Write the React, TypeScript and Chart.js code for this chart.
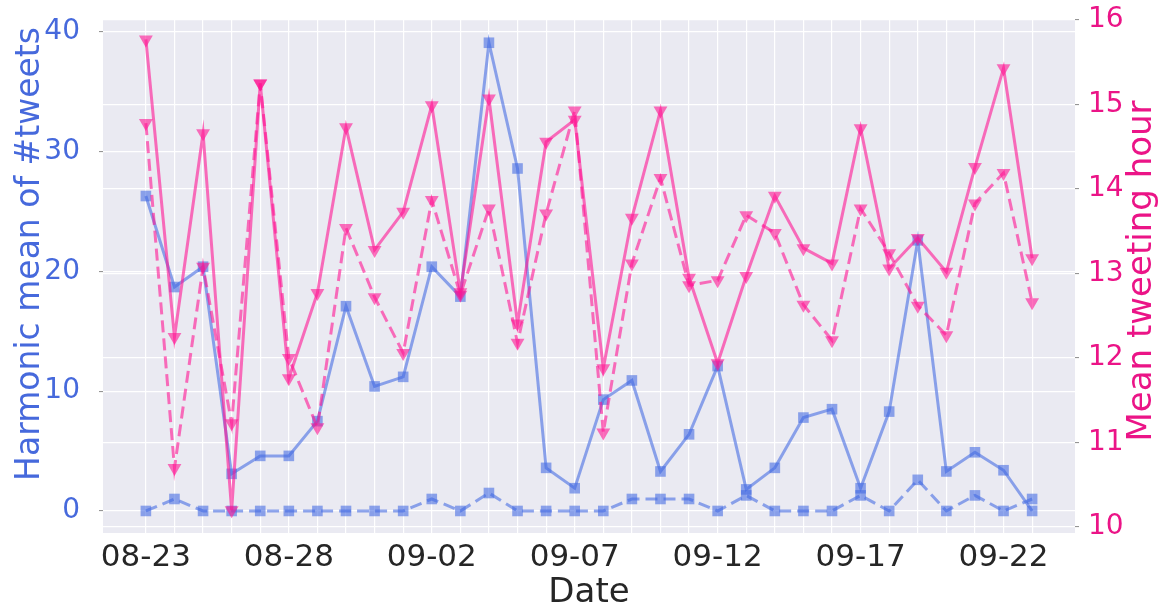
import React, { useEffect, useRef } from "react";
import { Chart, registerables } from "chart.js";

Chart.register(...registerables);

const dates = [
  "08-23", "08-24", "08-25", "08-26", "08-27", "08-28", "08-29", "08-30", "08-31",
  "09-01", "09-02", "09-03", "09-04", "09-05", "09-06", "09-07", "09-08", "09-09",
  "09-10", "09-11", "09-12", "09-13", "09-14", "09-15", "09-16", "09-17", "09-18",
  "09-19", "09-20", "09-21", "09-22", "09-23",
];
const xTickLabels = ["08-23", "08-28", "09-02", "09-07", "09-12", "09-17", "09-22"];
const leftTicks = [0, 10, 20, 30, 40];
const rightTicks = [10, 11, 12, 13, 14, 15, 16];

// Harmonic mean of #tweets (left axis)
const harmonicSolid = [
  26.3, 18.7, 20.4, 3.1, 4.6, 4.6, 7.5, 17.1, 10.4, 11.2, 20.4, 17.9, 39.1, 28.6, 3.6, 1.9,
  9.3, 10.9, 3.3, 6.4, 12.1, 1.8, 3.6, 7.8, 8.5, 1.9, 8.3, 22.6, 3.3, 4.9, 3.4, 0.0,
];
const harmonicDashed = [
  0, 1.0, 0, 0, 0, 0, 0, 0, 0, 0, 1.0, 0, 1.5, 0, 0, 0,
  0, 1.0, 1.0, 1.0, 0, 1.3, 0, 0, 0, 1.3, 0, 2.6, 0, 1.3, 0, 1.0,
];
// Mean tweeting hour (right axis)
const hourSolid = [
  15.77, 12.25, 14.66, 10.2, 15.25, 11.76, 12.77, 14.73, 13.28, 13.73, 14.99, 12.78, 15.07, 12.41, 14.56, 14.82,
  11.88, 13.66, 14.93, 12.95, 11.94, 12.97, 13.92, 13.3, 13.12, 14.72, 13.06, 13.42, 13.02, 14.26, 15.43, 13.18,
];
const hourDashed = [
  14.78, 10.7, 13.08, 11.23, 15.25, 12.0, 11.18, 13.54, 12.72, 12.06, 13.87, 12.75, 13.77, 12.18, 13.71, 14.93,
  11.12, 13.12, 14.13, 12.86, 12.92, 13.69, 13.48, 12.63, 12.21, 13.77, 13.24, 12.62, 12.27, 13.83, 14.19, 12.66,
];

const FONT = "'DejaVu Sans', sans-serif";
const BLUE = "rgba(65,105,225,0.58)";
const PINK = "rgba(255,20,147,0.6)";
const BLUE_TEXT = "rgb(70,105,220)";
const PINK_TEXT = "rgb(235,20,135)";
const DARK = "#262626";

const toPts = (arr: number[]) => arr.map((v, i) => ({ x: i, y: v }));

const bgPlugin = {
  id: "bgArea",
  beforeDraw(chart: any) {
    const { ctx, chartArea: a } = chart;
    ctx.save();
    ctx.fillStyle = "#EAEAF2";
    ctx.fillRect(a.left, a.top, a.right - a.left, a.bottom - a.top);
    ctx.restore();
  },
};

const axisTitlesPlugin = {
  id: "axisTitles",
  afterDraw(chart: any) {
    const { ctx } = chart;
    const draw = (text: string, x: number, y: number, color: string, size: number) => {
      ctx.save();
      ctx.translate(x, y);
      ctx.rotate(-Math.PI / 2);
      ctx.font = `${size}px ${FONT}`;
      ctx.fillStyle = color;
      ctx.textAlign = "center";
      ctx.textBaseline = "middle";
      ctx.fillText(text, 0, 0);
      ctx.restore();
    };
    draw("Harmonic mean of #tweets", 30, 254, BLUE_TEXT, 33);
    draw("Mean tweeting hour", 1142, 271, PINK_TEXT, 34);
  },
};

export default function App() {
  const ref = useRef<HTMLCanvasElement | null>(null);

  useEffect(() => {
    if (!ref.current) return;
    const common = {
      borderWidth: 3,
      pointHoverRadius: 8,
      pointBorderWidth: 0,
    };
    const chart = new Chart(ref.current, {
      type: "line",
      data: {
        datasets: [
          {
            label: "hour dashed",
            data: toPts(hourDashed),
            yAxisID: "yR",
            borderColor: PINK,
            backgroundColor: PINK,
            borderDash: [12, 6],
            pointStyle: "triangle",
            pointRotation: 180,
            pointRadius: 8,
            order: 1,
            ...common,
          },
          {
            label: "hour solid",
            data: toPts(hourSolid),
            yAxisID: "yR",
            borderColor: PINK,
            backgroundColor: PINK,
            pointStyle: "triangle",
            pointRotation: 180,
            pointRadius: 8,
            order: 2,
            ...common,
          },
          {
            label: "harmonic dashed",
            data: toPts(harmonicDashed),
            yAxisID: "y",
            borderColor: BLUE,
            backgroundColor: BLUE,
            borderDash: [12, 6],
            pointStyle: "rect",
            pointRadius: 7.5,
            order: 3,
            ...common,
          },
          {
            label: "harmonic solid",
            data: toPts(harmonicSolid),
            yAxisID: "y",
            borderColor: BLUE,
            backgroundColor: BLUE,
            pointStyle: "rect",
            pointRadius: 7.5,
            order: 4,
            ...common,
          },
        ] as any,
      },
      options: {
        animation: false,
        responsive: false,
        devicePixelRatio: 1,
        layout: { padding: { top: 20, left: 0, right: 0, bottom: 0 } },
        plugins: { legend: { display: false }, tooltip: { enabled: false } },
        scales: {
          x: {
            type: "linear",
            min: -1.5,
            max: 32.5,
            afterBuildTicks: (s: any) => {
              s.ticks = dates.map((_, i) => ({ value: i }));
            },
            afterFit: (s: any) => {
              s.height = 77;
              s.paddingLeft = 0;
              s.paddingRight = 0;
            },
            ticks: {
              autoSkip: false,
              maxRotation: 0,
              padding: 6,
              color: DARK,
              font: { family: FONT, size: 31 },
              callback: (v: any) => (xTickLabels.includes(dates[v]) ? dates[v] : ""),
            },
            grid: { color: "#ffffff", lineWidth: 1.2, drawTicks: false },
            border: { display: false },
            title: {
              display: true,
              text: "Date",
              color: DARK,
              font: { family: FONT, size: 34, lineHeight: 1 },
              padding: { top: 0, bottom: 0 },
            },
          },
          y: {
            type: "linear",
            position: "left",
            min: -1.84,
            max: 41.0,
            afterBuildTicks: (s: any) => {
              s.ticks = leftTicks.map((v) => ({ value: v }));
            },
            afterFit: (s: any) => {
              s.width = 103;
              s.paddingTop = 0;
              s.paddingBottom = 0;
            },
            ticks: {
              padding: 19,
              color: BLUE_TEXT,
              font: { family: FONT, size: 28 },
              callback: (v: any) => String(v),
            },
            grid: {
              color: "#ffffff",
              lineWidth: 1.2,
              drawTicks: true,
              tickLength: 4,
              tickColor: "rgba(60,60,60,0.6)",
              tickWidth: 1,
            },
            border: { display: false },
          },
          yR: {
            type: "linear",
            position: "right",
            min: 9.93,
            max: 16.0,
            afterBuildTicks: (s: any) => {
              s.ticks = rightTicks.map((v) => ({ value: v }));
            },
            afterFit: (s: any) => {
              s.width = 88;
              s.paddingTop = 0;
              s.paddingBottom = 0;
            },
            ticks: {
              padding: 9,
              color: PINK_TEXT,
              font: { family: FONT, size: 28 },
              callback: (v: any) => String(v),
            },
            grid: {
              color: "#ffffff",
              lineWidth: 1.2,
              drawTicks: true,
              tickLength: 4,
              tickColor: "rgba(60,60,60,0.6)",
              tickWidth: 1,
            },
            border: { display: false },
          },
        },
      } as any,
      plugins: [bgPlugin, axisTitlesPlugin],
    });
    return () => chart.destroy();
  }, []);

  return (
    <div style={{ position: "absolute", left: 0, top: 0, width: 1163, height: 610, background: "#fff" }}>
      <canvas ref={ref} width={1163} height={610} style={{ display: "block" }} />
    </div>
  );
}
